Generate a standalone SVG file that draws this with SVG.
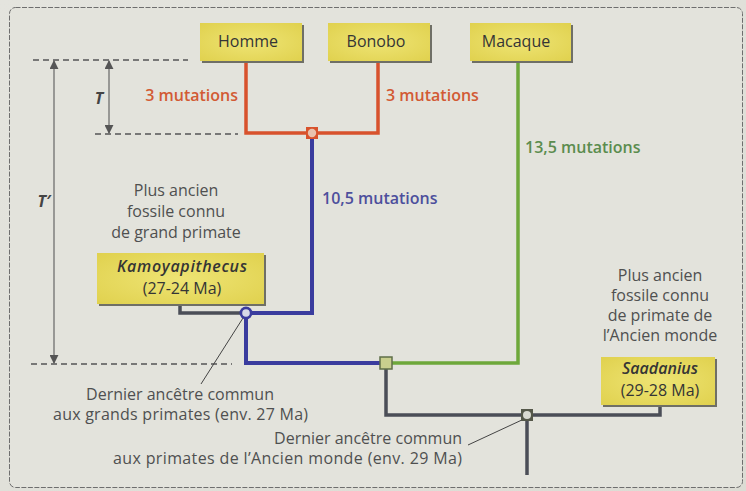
<svg xmlns="http://www.w3.org/2000/svg" width="746" height="491" viewBox="0 0 746 491">
  <style>
    text { font-family: "Open Sans", "Liberation Sans", sans-serif; font-size: 16px; }
    .lbl { fill: #4f5050; }
    .box-txt { fill: #353535; text-anchor: middle; }
    .mut { font-weight: 600; }
    .note { fill: #4f5050; text-anchor: middle; }
    .dash { stroke: #555; stroke-width: 1.5; stroke-dasharray: 6 4; fill: none; }
    .axis { stroke: #666; stroke-width: 1.2; fill: none; }
    .box { fill: url(#yellow); }
    .shadow { fill: #6f6f66; }
    .branch { fill: none; stroke-linejoin: miter; }
    .leader { stroke: #444; stroke-width: 1; fill: none; }
  </style>
  <defs>
    <radialGradient id="yellow" cx="0.5" cy="0.5" r="0.7">
      <stop offset="0" stop-color="#eee474"/>
      <stop offset="1" stop-color="#e0d14e"/>
    </radialGradient>
    <linearGradient id="bg" x1="0" y1="0" x2="1" y2="1">
      <stop offset="0" stop-color="#e4e4de"/>
      <stop offset="1" stop-color="#dcdcd4"/>
    </linearGradient>
    <marker id="arr" viewBox="0 0 10 10" refX="9" refY="5" markerWidth="9" markerHeight="9" orient="auto-start-reverse" markerUnits="userSpaceOnUse">
      <path d="M0,0 L10,5 L0,10 z" fill="#555"/>
    </marker>
  </defs>

  <!-- backdrop and frame -->
  <rect width="746" height="491" fill="url(#bg)"/>
  <rect x="9.5" y="7.5" width="733" height="480" rx="6" fill="#e3e3dc" stroke="#6e6e6e" stroke-width="1" stroke-dasharray="5 1.5"/>

  <!-- time scale -->
  <g id="scale">
    <line class="dash" x1="33" y1="60" x2="188" y2="60"/>
    <line class="dash" x1="95" y1="134" x2="238" y2="134"/>
    <line class="dash" x1="31" y1="364" x2="232" y2="364"/>
    <line class="axis" x1="109" y1="61" x2="109" y2="133" marker-start="url(#arr)" marker-end="url(#arr)"/>
    <line class="axis" x1="54" y1="61" x2="54" y2="363" marker-start="url(#arr)" marker-end="url(#arr)"/>
    <text x="99" y="104" fill="#444" font-style="italic" font-weight="700" text-anchor="middle">T</text>
    <text x="44" y="207" fill="#444" font-style="italic" font-weight="700" text-anchor="middle">T′</text>
  </g>

  <!-- tree branches -->
  <g id="connectors">
    <path class="branch" d="M180,305 V313 H246" stroke="#4b4e57" stroke-width="3.5"/>
    <path class="branch" d="M386,363 V415 H660 V405" stroke="#4b4e57" stroke-width="3.5"/>
    <path class="branch" d="M527,415 V475" stroke="#4b4e57" stroke-width="3.5"/>
    <path class="branch" d="M518,61 V363 H386" stroke="#6ea83a" stroke-width="3.5"/>
    <path class="branch" d="M312,133 V313 H246 V363 H386" stroke="#3a3c9e" stroke-width="4"/>
    <path class="branch" d="M246,61 V133 H378 V61" stroke="#d8522c" stroke-width="3.5"/>
    <line class="leader" x1="243" y1="318" x2="201" y2="384"/>
    <line class="leader" x1="524" y1="419" x2="468" y2="445"/>
  </g>

  <!-- branch nodes -->
  <g id="node-homme-bonobo">
    <rect x="306" y="127" width="12" height="12" fill="#d8522c"/>
    <circle cx="312" cy="133" r="4.2" fill="#e9c2ae"/>
  </g>
  <g id="node-grands-primates">
    <circle cx="246" cy="313" r="6.5" fill="#3a3c9e"/>
    <circle cx="246" cy="313" r="3.8" fill="#d6d8e8"/>
  </g>
  <g id="node-macaque">
    <rect x="380" y="357" width="12" height="12" fill="#c9cf8e" stroke="#5f6f48" stroke-width="1.5"/>
  </g>
  <g id="node-ancien-monde">
    <rect x="521" y="409" width="12" height="12" fill="#55584a"/>
    <circle cx="527" cy="415" r="4" fill="#d9dad2"/>
  </g>

  <!-- species boxes -->
  <g id="homme">
    <rect class="shadow" x="202" y="25" width="102" height="38"/>
    <rect class="box" x="200" y="23" width="102" height="38"/>
    <text class="box-txt" x="248" y="47">Homme</text>
  </g>
  <g id="bonobo">
    <rect class="shadow" x="330" y="25" width="102" height="38"/>
    <rect class="box" x="328" y="23" width="102" height="38"/>
    <text class="box-txt" x="376" y="47">Bonobo</text>
  </g>
  <g id="macaque">
    <rect class="shadow" x="472" y="25" width="101" height="38"/>
    <rect class="box" x="470" y="23" width="101" height="38"/>
    <text class="box-txt" x="516" y="47">Macaque</text>
  </g>

  <!-- fossil boxes -->
  <g id="kamoyapithecus">
    <rect class="shadow" x="99" y="255" width="167" height="51"/>
    <rect class="box" x="97" y="253" width="167" height="51"/>
    <text class="box-txt" x="182" y="272" font-style="italic" font-weight="600" textLength="130" lengthAdjust="spacing">Kamoyapithecus</text>
    <text class="box-txt" x="182" y="294">(27-24 Ma)</text>
  </g>
  <g id="saadanius">
    <rect class="shadow" x="603" y="359" width="114" height="48"/>
    <rect class="box" x="601" y="357" width="114" height="48"/>
    <text class="box-txt" x="660" y="374" font-style="italic" font-weight="600">Saadanius</text>
    <text class="box-txt" x="660" y="396">(29-28 Ma)</text>
  </g>

  <!-- mutation counts -->
  <g id="mutations">
    <text class="mut" x="238" y="101" fill="#d25a34" text-anchor="end">3 mutations</text>
    <text class="mut" x="386" y="101" fill="#d25a34">3 mutations</text>
    <text class="mut" x="525" y="153" fill="#5b8c4e">13,5 mutations</text>
    <text class="mut" x="322" y="204" fill="#4d4f9c">10,5 mutations</text>
  </g>

  <!-- annotations -->
  <g id="note-grand-primate">
    <text class="note" x="176" y="196">Plus ancien</text>
    <text class="note" x="176" y="217">fossile connu</text>
    <text class="note" x="176" y="238">de grand primate</text>
  </g>
  <g id="note-ancien-monde">
    <text class="note" x="660" y="281">Plus ancien</text>
    <text class="note" x="660" y="301">fossile connu</text>
    <text class="note" x="660" y="321">de primate de</text>
    <text class="note" x="660" y="341">l’Ancien monde</text>
  </g>
  <g id="note-ancetre-grands">
    <text class="note" x="180" y="400">Dernier ancêtre commun</text>
    <text x="53" y="420" class="lbl" textLength="255" lengthAdjust="spacing">aux grands primates (env. 27 Ma)</text>
  </g>
  <g id="note-ancetre-ancien">
    <text class="lbl" x="462" y="444" text-anchor="end">Dernier ancêtre commun</text>
    <text class="lbl" x="113" y="464" textLength="349" lengthAdjust="spacing">aux primates de l’Ancien monde (env. 29 Ma)</text>
  </g>
</svg>
